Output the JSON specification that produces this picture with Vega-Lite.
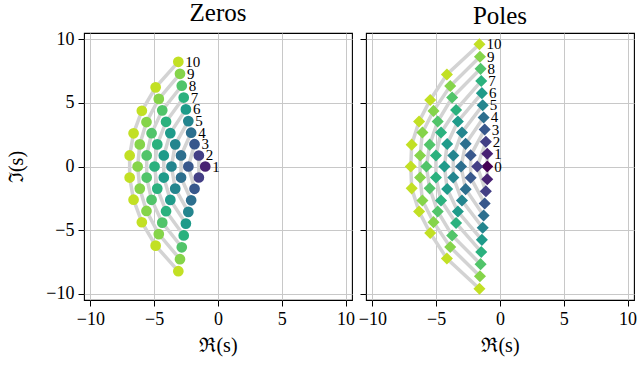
{
  "$schema": "https://vega.github.io/schema/vega-lite/v6.json",
  "padding": {"left": 6, "top": 0, "right": 0, "bottom": 2},
  "spacing": 1,
  "datasets": {
    "zeros": [
      {"n": 1, "re": -1.0, "im": 0},
      {"n": 2, "re": -1.5, "im": 0.866}, {"n": 2, "re": -1.5, "im": -0.866},
      {"n": 3, "re": -2.3222, "im": 0}, {"n": 3, "re": -1.8389, "im": 1.7544}, {"n": 3, "re": -1.8389, "im": -1.7544},
      {"n": 4, "re": -2.8962, "im": 0.8672}, {"n": 4, "re": -2.8962, "im": -0.8672}, {"n": 4, "re": -2.1038, "im": 2.6574}, {"n": 4, "re": -2.1038, "im": -2.6574},
      {"n": 5, "re": -3.6467, "im": 0}, {"n": 5, "re": -3.352, "im": 1.7427}, {"n": 5, "re": -3.352, "im": -1.7427}, {"n": 5, "re": -2.3247, "im": 3.571}, {"n": 5, "re": -2.3247, "im": -3.571},
      {"n": 6, "re": -4.2484, "im": 0.8675}, {"n": 6, "re": -4.2484, "im": -0.8675}, {"n": 6, "re": -3.7357, "im": 2.6263}, {"n": 6, "re": -3.7357, "im": -2.6263}, {"n": 6, "re": -2.5159, "im": 4.4927}, {"n": 6, "re": -2.5159, "im": -4.4927},
      {"n": 7, "re": -4.9718, "im": 0}, {"n": 7, "re": -4.7583, "im": 1.7393}, {"n": 7, "re": -4.7583, "im": -1.7393}, {"n": 7, "re": -4.0701, "im": 3.5172}, {"n": 7, "re": -4.0701, "im": -3.5172}, {"n": 7, "re": -2.6857, "im": 5.4207}, {"n": 7, "re": -2.6857, "im": -5.4207},
      {"n": 8, "re": -5.5879, "im": 0.8676}, {"n": 8, "re": -5.5879, "im": -0.8676}, {"n": 8, "re": -5.2048, "im": 2.6162}, {"n": 8, "re": -5.2048, "im": -2.6162}, {"n": 8, "re": -4.3683, "im": 4.4144}, {"n": 8, "re": -4.3683, "im": -4.4144}, {"n": 8, "re": -2.839, "im": 6.3539}, {"n": 8, "re": -2.839, "im": -6.3539},
      {"n": 9, "re": -6.297, "im": 0}, {"n": 9, "re": -6.1294, "im": 1.7378}, {"n": 9, "re": -6.1294, "im": -1.7378}, {"n": 9, "re": -5.6044, "im": 3.4982}, {"n": 9, "re": -5.6044, "im": -3.4982}, {"n": 9, "re": -4.6384, "im": 5.3173}, {"n": 9, "re": -4.6384, "im": -5.3173}, {"n": 9, "re": -2.9793, "im": 7.2915}, {"n": 9, "re": -2.9793, "im": -7.2915},
      {"n": 10, "re": -6.922, "im": 0.8677}, {"n": 10, "re": -6.922, "im": -0.8677}, {"n": 10, "re": -6.6153, "im": 2.6116}, {"n": 10, "re": -6.6153, "im": -2.6116}, {"n": 10, "re": -5.9675, "im": 4.3849}, {"n": 10, "re": -5.9675, "im": -4.3849}, {"n": 10, "re": -4.8862, "im": 6.225}, {"n": 10, "re": -4.8862, "im": -6.225}, {"n": 10, "re": -3.1089, "im": 8.2327}, {"n": 10, "re": -3.1089, "im": -8.2327}
    ],
    "poles": [
      {"n": 0, "re": -1.0, "im": 0},
      {"n": 1, "re": -1.0, "im": 1.0}, {"n": 1, "re": -1.0, "im": -1.0},
      {"n": 2, "re": -1.7833, "im": 0}, {"n": 2, "re": -1.1083, "im": 1.9541}, {"n": 2, "re": -1.1083, "im": -1.9541},
      {"n": 3, "re": -2.2997, "im": 0.8804}, {"n": 3, "re": -2.2997, "im": -0.8804}, {"n": 3, "re": -1.2003, "im": 2.9076}, {"n": 3, "re": -1.2003, "im": -2.9076},
      {"n": 4, "re": -3.052, "im": 0}, {"n": 4, "re": -2.6913, "im": 1.7807}, {"n": 4, "re": -2.6913, "im": -1.7807}, {"n": 4, "re": -1.2828, "im": 3.8567}, {"n": 4, "re": -1.2828, "im": -3.8567},
      {"n": 5, "re": -3.66, "im": 0.86}, {"n": 5, "re": -3.66, "im": -0.86}, {"n": 5, "re": -2.98, "im": 2.68}, {"n": 5, "re": -2.98, "im": -2.68}, {"n": 5, "re": -1.354, "im": 4.815}, {"n": 5, "re": -1.354, "im": -4.815},
      {"n": 6, "re": -4.355, "im": 0}, {"n": 6, "re": -4.14, "im": 1.77}, {"n": 6, "re": -4.14, "im": -1.77}, {"n": 6, "re": -3.3, "im": 3.54}, {"n": 6, "re": -3.3, "im": -3.54}, {"n": 6, "re": -1.42, "im": 5.77}, {"n": 6, "re": -1.42, "im": -5.77},
      {"n": 7, "re": -5.02, "im": 0.86}, {"n": 7, "re": -5.02, "im": -0.86}, {"n": 7, "re": -4.62, "im": 2.68}, {"n": 7, "re": -4.62, "im": -2.68}, {"n": 7, "re": -3.44, "im": 4.45}, {"n": 7, "re": -3.44, "im": -4.45}, {"n": 7, "re": -1.47, "im": 6.72}, {"n": 7, "re": -1.47, "im": -6.72},
      {"n": 8, "re": -5.77, "im": 0}, {"n": 8, "re": -5.51, "im": 1.72}, {"n": 8, "re": -5.51, "im": -1.72}, {"n": 8, "re": -4.88, "im": 3.54}, {"n": 8, "re": -4.88, "im": -3.54}, {"n": 8, "re": -3.75, "im": 5.42}, {"n": 8, "re": -3.75, "im": -5.42}, {"n": 8, "re": -1.52, "im": 7.68}, {"n": 8, "re": -1.52, "im": -7.68},
      {"n": 9, "re": -6.26, "im": 0.86}, {"n": 9, "re": -6.26, "im": -0.86}, {"n": 9, "re": -6.08, "im": 2.68}, {"n": 9, "re": -6.08, "im": -2.68}, {"n": 9, "re": -5.21, "im": 4.375}, {"n": 9, "re": -5.21, "im": -4.375}, {"n": 9, "re": -3.9, "im": 6.33}, {"n": 9, "re": -3.9, "im": -6.33}, {"n": 9, "re": -1.57, "im": 8.64}, {"n": 9, "re": -1.57, "im": -8.64},
      {"n": 10, "re": -6.99, "im": 0}, {"n": 10, "re": -6.92, "im": 1.72}, {"n": 10, "re": -6.92, "im": -1.72}, {"n": 10, "re": -6.34, "im": 3.54}, {"n": 10, "re": -6.34, "im": -3.54}, {"n": 10, "re": -5.47, "im": 5.23}, {"n": 10, "re": -5.47, "im": -5.23}, {"n": 10, "re": -4.16, "im": 7.24}, {"n": 10, "re": -4.16, "im": -7.24}, {"n": 10, "re": -1.61, "im": 9.61}, {"n": 10, "re": -1.61, "im": -9.61}
    ]
  },
  "config": {
    "font": "Liberation Serif",
    "view": {"stroke": "#000000", "strokeWidth": 1.1},
    "axis": {
      "grid": true, "gridColor": "#c8c8c8", "gridWidth": 1,
      "domain": false,
      "tickColor": "#000000", "tickSize": 6, "tickWidth": 1,
      "labelFont": "Liberation Serif", "labelFontSize": 18, "labelColor": "#000000", "labelPadding": 4,
      "labelOverlap": false, "labelFlush": false,
      "titleFont": "Liberation Serif", "titleFontSize": 20, "titleFontWeight": "normal", "titleColor": "#000000"
    },
    "axisX": {"titlePadding": 7},
    "axisY": {"titlePadding": 19},
    "title": {"font": "Liberation Serif", "fontSize": 25, "fontWeight": "normal", "color": "#000000", "offset": 0}
  },
  "hconcat": [
    {
      "title": "Zeros",
      "width": 268,
      "height": 267,
      "data": {"name": "zeros"},
      "encoding": {
        "x": {"field": "re", "type": "quantitative", "scale": {"domain": [-10.5, 10.5], "nice": false, "zero": false}, "axis": {"values": [-10, -5, 0, 5, 10], "title": "ℜ(s)"}},
        "y": {"field": "im", "type": "quantitative", "scale": {"domain": [-10.5, 10.5], "nice": false, "zero": false}, "axis": {"values": [-10, -5, 0, 5, 10], "title": "ℑ(s)"}}
      },
      "layer": [
        {"mark": {"type": "line", "color": "#d3d3d3", "strokeWidth": 3.5}, "encoding": {"detail": {"field": "n"}, "order": {"field": "im"}}},
        {"mark": {"type": "point", "shape": "circle", "filled": true, "opacity": 1, "size": 115}, "encoding": {"color": {"field": "n", "type": "quantitative", "scale": {"scheme": "viridis", "domain": [0, 11]}, "legend": null}}},
        {
          "transform": [{"joinaggregate": [{"op": "max", "field": "im", "as": "maxim"}], "groupby": ["n"]}, {"filter": "datum.im === datum.maxim"}],
          "mark": {"type": "text", "align": "left", "baseline": "middle", "dx": 7, "fontSize": 15, "font": "Liberation Serif", "color": "#000000"},
          "encoding": {"text": {"field": "n", "type": "quantitative"}}
        }
      ]
    },
    {
      "title": "Poles",
      "width": 268,
      "height": 267,
      "data": {"name": "poles"},
      "encoding": {
        "x": {"field": "re", "type": "quantitative", "scale": {"domain": [-10.5, 10.5], "nice": false, "zero": false}, "axis": {"values": [-10, -5, 0, 5, 10], "title": "ℜ(s)"}},
        "y": {"field": "im", "type": "quantitative", "scale": {"domain": [-10.5, 10.5], "nice": false, "zero": false}, "axis": {"values": [-10, -5, 0, 5, 10], "labels": false, "title": null}}
      },
      "layer": [
        {"mark": {"type": "line", "color": "#d3d3d3", "strokeWidth": 3.5}, "encoding": {"detail": {"field": "n"}, "order": {"field": "im"}}},
        {"mark": {"type": "point", "shape": "diamond", "filled": true, "opacity": 1, "size": 145}, "encoding": {"color": {"field": "n", "type": "quantitative", "scale": {"scheme": "viridis", "domain": [0, 11]}, "legend": null}}},
        {
          "transform": [{"joinaggregate": [{"op": "max", "field": "im", "as": "maxim"}], "groupby": ["n"]}, {"filter": "datum.im === datum.maxim"}],
          "mark": {"type": "text", "align": "left", "baseline": "middle", "dx": 7, "fontSize": 15, "font": "Liberation Serif", "color": "#000000"},
          "encoding": {"text": {"field": "n", "type": "quantitative"}}
        }
      ]
    }
  ]
}
